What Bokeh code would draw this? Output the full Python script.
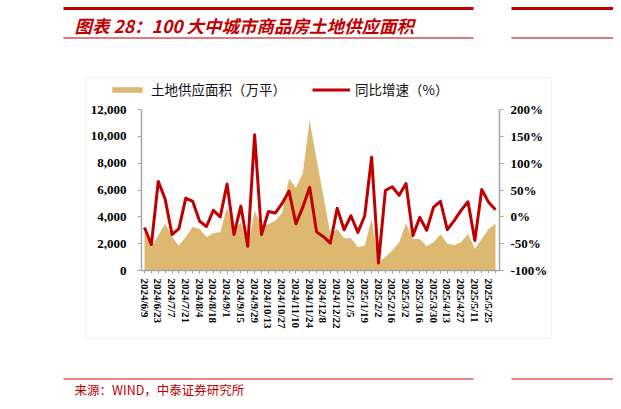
from bokeh.plotting import figure
from bokeh.models import (Range1d, LinearAxis, FixedTicker, NumeralTickFormatter, Label,
                          BoxAnnotation, Legend, LegendItem, ColumnDataSource)
from bokeh.embed import file_html
from bokeh.resources import INLINE

# ---------------- data ----------------
dates = ["2024/6/9", "2024/6/16", "2024/6/23", "2024/6/30", "2024/7/7", "2024/7/14", "2024/7/21",
         "2024/7/28", "2024/8/4", "2024/8/11", "2024/8/18", "2024/8/25", "2024/9/1", "2024/9/8",
         "2024/9/15", "2024/9/22", "2024/9/29", "2024/10/6", "2024/10/13", "2024/10/20",
         "2024/10/27", "2024/11/3", "2024/11/10", "2024/11/17", "2024/11/24", "2024/12/1",
         "2024/12/8", "2024/12/15", "2024/12/22", "2024/12/29", "2025/1/5", "2025/1/12",
         "2025/1/19", "2025/1/26", "2025/2/2", "2025/2/9", "2025/2/16", "2025/2/23", "2025/3/2",
         "2025/3/9", "2025/3/16", "2025/3/23", "2025/3/30", "2025/4/6", "2025/4/13", "2025/4/20",
         "2025/4/27", "2025/5/4", "2025/5/11", "2025/5/18", "2025/5/25", "2025/6/1"]

land_supply = [2900, 1700, 2600, 3500, 2500, 1850, 2500, 3250, 3100, 2500, 2800, 2850, 4700, 2950,
               3600, 1700, 4450, 3300, 3450, 3700, 4300, 6850, 6150, 7250, 11200, 8300, 5500, 2700,
               3100, 2400, 2400, 1750, 1850, 3850, 600, 1000, 1500, 2100, 3500, 2350, 2350, 1800,
               2100, 2700, 2000, 1900, 2100, 2750, 1600, 2350, 3100, 3500]

yoy = [-20, -52, 66, 33, -33, -22, 35, 29, -8, -18, 12, 0, 61, -33, 20, -55, 153, -33, 10, 7, 25,
       48, -13, 18, 55, -28, -37, -49, 16, -24, 2, -29, 2, 111, -86, 49, 56, 40, 62, -35, -1, -25,
       18, 29, -24, -7, 12, 28, -44, 51, 27, 13]

left_ticks = [0, 2000, 4000, 6000, 8000, 10000, 12000]
right_ticks = [-100, -50, 0, 50, 100, 150, 200]
right_labels = ["-100%", "-50%", "0%", "50%", "100%", "150%", "200%"]

title_text = "图表 28：100 大中城市商品房土地供应面积"
source_text = "来源：WIND，中泰证券研究所"
legend_area = "土地供应面积（万平）"
legend_line = "同比增速（%）"

# ---------------- style / geometry ----------------
RED = "#C00000"
TAN = "#DDB871"
AXIS_GRAY = "#A6A6A6"
W, H = 613, 401
PAGE_L, PAGE_T = 0, 0                  # canvas origin in screenshot px
PAGE_R, PAGE_B = PAGE_L + W, PAGE_T + H
FL, FR, FT, FB = 141, 499, 109, 270   # plot-area edges in screenshot px
X_FIRST, X_LAST = 144, 495             # first / last category centre

n = len(dates)
step = (X_LAST - X_FIRST) / (n - 1)
xs = -(X_FIRST - FL) / step
xe = (n - 1) + (FR - X_LAST) / step

def dx(px):
    return xs + (px - FL) / (FR - FL) * (xe - xs)

def dy(py):
    return 12000 * (FB - py) / (FB - FT)

def dp(py):
    return -100 + 300 * (FB - py) / (FB - FT)

src = ColumnDataSource(dict(x=list(range(n)), area=land_supply, yoy=yoy))

p = figure(width=W, height=H, output_backend="svg", toolbar_location=None,
           x_range=Range1d(dx(PAGE_L), dx(PAGE_R)), y_range=Range1d(dy(PAGE_B), dy(PAGE_T)),
           min_border=0, x_axis_location=None, y_axis_location=None)
p.extra_y_ranges = {"pct": Range1d(dp(PAGE_B), dp(PAGE_T))}
p.outline_line_color = None
p.xgrid.visible = False
p.ygrid.visible = False
p.background_fill_color = "white"
p.border_fill_color = "white"

area_r = p.varea(x="x", y1=0, y2="area", source=src, fill_color=TAN)
line_r = p.line(x="x", y="yoy", source=src, y_range_name="pct", line_color=RED,
                line_width=3, line_join="round")

AX_FONT = "Liberation Serif"

def style_axis(a, size):
    a.major_label_text_font = AX_FONT
    a.major_label_text_font_style = "bold"
    a.major_label_text_font_size = size
    a.major_label_text_color = "#000000"
    a.axis_line_color = AXIS_GRAY
    a.axis_line_width = 1.5
    a.major_tick_line_color = AXIS_GRAY
    a.major_tick_in = 0

# x axis
xa = LinearAxis(fixed_location=0, bounds=(xs, xe),
                ticker=FixedTicker(ticks=list(range(0, n, 2)), minor_ticks=list(range(n))))
style_axis(xa, "11px")
xa.major_label_overrides = {i: dates[i] for i in range(0, n, 2)}
xa.major_label_orientation = "vertical"
xa.major_label_standoff = 5
xa.minor_tick_line_color = AXIS_GRAY
xa.major_tick_out = 3
xa.minor_tick_out = 3
xa.minor_tick_in = 0
p.add_layout(xa, "below")

# left axis
ya = LinearAxis(fixed_location=xs, bounds=(0, 12000), ticker=FixedTicker(ticks=left_ticks),
                formatter=NumeralTickFormatter(format="0,0"))
style_axis(ya, "13px")
ya.major_label_standoff = 11
ya.major_tick_out = 4
ya.minor_tick_line_color = None
p.add_layout(ya, "left")

# right axis
ra = LinearAxis(y_range_name="pct", fixed_location=xe, bounds=(-100, 200),
                ticker=FixedTicker(ticks=right_ticks))
style_axis(ra, "13px")
ra.major_label_overrides = {t: l for t, l in zip(right_ticks, right_labels)}
ra.major_label_standoff = 7
ra.major_tick_out = 4
ra.minor_tick_line_color = None
p.add_layout(ra, "right")

# legend (screen units relative to canvas bottom-left)
legend = Legend(items=[LegendItem(label=legend_area, renderers=[area_r]),
                       LegendItem(label=legend_line, renderers=[line_r])],
                orientation="horizontal", location=(108 - PAGE_L, PAGE_B - 99),
                glyph_width=38, glyph_height=7, label_standoff=5, spacing=26,
                padding=0, margin=0, border_line_color=None, background_fill_alpha=0,
                label_text_font="Noto Sans CJK SC", label_text_font_size="13.5px",
                label_text_color="#111111", label_height=13)
p.add_layout(legend)

# chart frame box
p.add_layout(BoxAnnotation(left=dx(85), right=dx(551), top=dy(77), bottom=dy(338),
                           fill_alpha=0, line_color="#D9D9D9", line_width=1))

# header / footer rules
for l, r in [(63, 473), (511, 640)]:
    p.add_layout(BoxAnnotation(left=dx(l), right=dx(r), top=dy(6.6), bottom=dy(9.4),
                               fill_color=RED, fill_alpha=1, line_color=None))
    p.add_layout(BoxAnnotation(left=dx(l), right=dx(r), top=dy(36.8), bottom=dy(38.2),
                               fill_color="#D05050", fill_alpha=1, line_color=None))
    p.add_layout(BoxAnnotation(left=dx(l), right=dx(r), top=dy(377.8), bottom=dy(379.3),
                               fill_color="#D86060", fill_alpha=1, line_color=None))

p.add_layout(Label(x=dx(74), y=dy(25), text=title_text, text_color=RED,
                   text_font="Noto Sans CJK SC", text_font_style="bold italic",
                   text_font_size="17.5px", text_baseline="middle", text_align="left"))
p.add_layout(Label(x=dx(74), y=dy(389), text=source_text, text_color=RED,
                   text_font="Noto Sans CJK SC", text_font_size="12.5px",
                   text_baseline="middle", text_align="left"))

open("out.html", "w").write(file_html(p, INLINE))
